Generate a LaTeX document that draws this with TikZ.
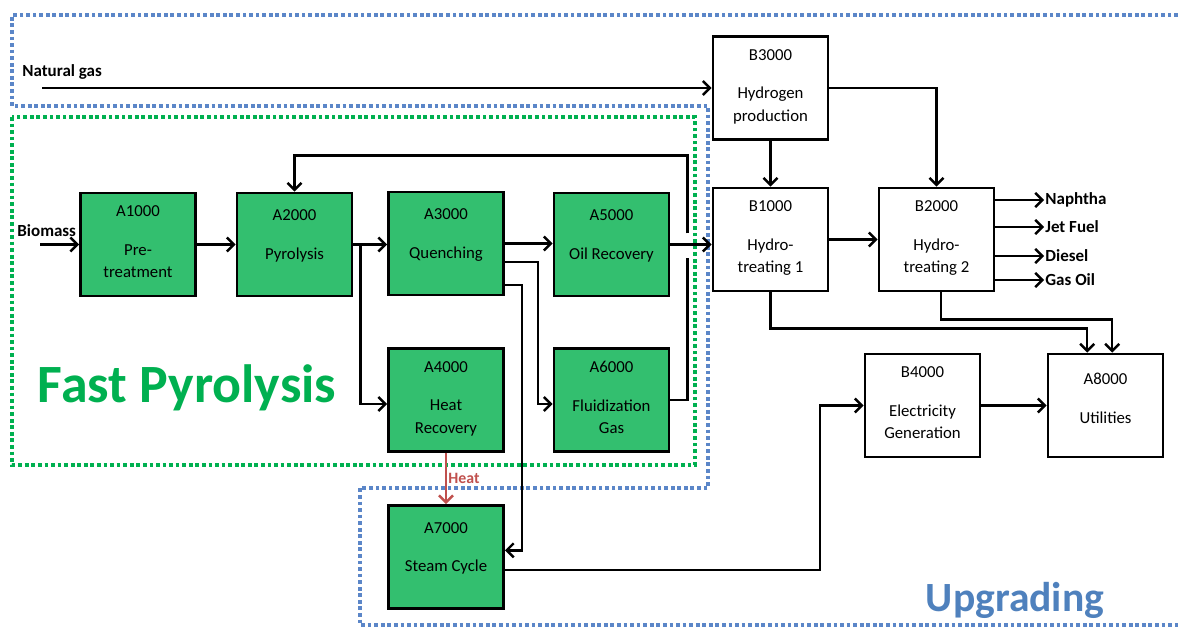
\documentclass[tikz,border=0pt]{standalone}
\usepackage{fontspec}
\setmainfont{Carlito}
\usetikzlibrary{arrows.meta}
\definecolor{pygreen}{RGB}{51,191,111}
\definecolor{fpgreen}{RGB}{0,176,80}
\definecolor{upblue}{RGB}{79,129,189}
\definecolor{dotblue}{RGB}{91,134,200}
\definecolor{heatred}{RGB}{192,80,77}
\begin{document}
\begin{tikzpicture}[x=0.03cm,y=-0.03cm,>={Straight Barb[length=6pt,width=12pt]},
    blk/.style={draw,line width=2.4pt,minimum width=3.45cm,minimum height=3.09cm,inner sep=0pt},
    pyro/.style={blk,fill=pygreen},
    upg/.style={blk,fill=white},
    txt/.style={anchor=north,yshift=-0.42cm,inner sep=0pt,align=center,font=\fontsize{14.3}{19}\selectfont},
    flow/.style={line width=2.1pt,->},
    stream/.style={font=\bfseries\fontsize{14.5}{17}\selectfont,inner sep=1pt},
    region/.style={line width=3.2pt,dash pattern=on 3.2pt off 2.4pt}]
    \useasboundingbox (0,0) rectangle (1180,628);

    % the two areas
    \draw[region,dotblue] (1178,15) -- (12,15) -- (12,106) -- (708,106) -- (708,488) -- (360,488) -- (360,625) -- (1178,625);
    \draw[region,fpgreen] (12,117) rectangle (695,465);
    \node[font=\bfseries\fontsize{46}{54}\selectfont,text=fpgreen] (fptitle) at (187,388) {Fast Pyrolysis};
    \node[font=\bfseries\fontsize{35.5}{42}\selectfont,text=upblue] (uptitle) at (1015,600) {Upgrading};

    % fast pyrolysis blocks
    \node[pyro,label={[txt]north:{A1000\\[14pt]Pre-\\treatment}}] (a1000) at (138,244.5) {};
    \node[pyro,label={[txt,yshift=-0.12cm]north:{A2000\\[14pt]Pyrolysis}}] (a2000) at (294.5,244.5) {};
    \node[pyro,label={[txt,yshift=-0.12cm]north:{A3000\\[14pt]Quenching}}] (a3000) at (446,243.5) {};
    \node[pyro,label={[txt,yshift=-0.12cm]north:{A5000\\[14pt]Oil Recovery}}] (a5000) at (611.5,244.5) {};
    \node[pyro,label={[txt]north:{A4000\\[14pt]Heat\\Recovery}}] (a4000) at (446,400) {};
    \node[pyro,label={[txt]north:{A6000\\[14pt]Fluidization\\Gas}}] (a6000) at (611.5,400) {};
    \node[pyro,label={[txt,yshift=-0.12cm]north:{A7000\\[14pt]Steam Cycle}}] (a7000) at (446,557) {};

    % upgrading blocks
    \node[upg,label={[txt]north:{B3000\\[14pt]Hydrogen\\production}}] (b3000) at (770.5,88) {};
    \node[upg,label={[txt]north:{B1000\\[14pt]Hydro-\\treating 1}}] (b1000) at (770.5,239.5) {};
    \node[upg,label={[txt]north:{B2000\\[14pt]Hydro-\\treating 2}}] (b2000) at (936.5,239.5) {};
    \node[upg,label={[txt]north:{B4000\\[14pt]Electricity\\Generation}}] (b4000) at (922.5,405.5) {};
    \node[upg,label={[txt,yshift=-0.2cm]north:{A8000\\[14pt]Utilities}}] (a8000) at (1105.5,405.5) {};

    % feeds
    \node[stream,anchor=west] (ngas) at (21,72) {Natural gas};
    \node[stream,anchor=west] (biomass) at (16,231) {Biomass};
    \coordinate (ngin) at (42,88);
    \coordinate (bmin) at (40,244.5);
    \draw[flow] (ngin) -- (b3000.west);
    \draw[flow] (bmin) -- (a1000.west);

    % pyrolysis streams
    \draw[flow] (a1000.east) -- (a2000.west);
    \draw[flow] (a2000.east) -- (a2000.east -| a3000.west);
    \draw[flow] (a2000.east) -- ++(7,0) |- ([yshift=-0.12cm]a4000.west);
    \draw[flow] (a3000.east) -- (a3000.east -| a5000.west);
    \draw[flow] ([yshift=-0.55cm]a3000.east) -- ++(33,0) |- ([yshift=-0.12cm]a6000.west);
    \draw[flow] ([yshift=-1.25cm]a3000.east) -- ++(17,0) |- ([yshift=0.2cm]a7000.east);
    \draw[flow] (a5000.east) -- (a5000.east -| b1000.west);
    \draw[flow] ([xshift=0.51cm,yshift=0.33cm]a5000.east) -- ++(0,-78) -| (a2000.north);
    \draw[line width=2.1pt] (a6000.east) -- ++(17,0) -- ++(0,-142);
    \draw[flow,heatred] (a4000.south) -- node[right,inner sep=1pt,font=\bfseries\fontsize{13.5}{15}\selectfont] (heat) {Heat} (a7000.north);

    % upgrading streams
    \draw[flow] (b3000.south) -- (b1000.north);
    \draw[flow] (b3000.east) -| (b2000.north);
    \draw[flow] (b1000.east) -- (b2000.west);
    \foreach \yy/\prod/\nm in {200/Naphtha/naphtha,227/Jet Fuel/jetfuel,256/Diesel/diesel,280/Gas Oil/gasoil} {
      \node[stream,anchor=west] (\nm) at (1044,\yy) {\prod};
      \draw[flow] (b2000.east |- \nm.west) -- (\nm.west);
    }
    \draw[flow] (b1000.south) -- ++(0,36) -| ([xshift=-0.55cm]a8000.north);
    \draw[flow] ([xshift=0.14cm]b2000.south) -- ++(0,27) -| ([xshift=0.2cm]a8000.north);
    \draw[flow] (b4000.east) -- (a8000.west);
    \draw[flow] ([yshift=-0.39cm]a7000.east) -- ++(315,0) |- (b4000.west);
\end{tikzpicture}
\end{document}
